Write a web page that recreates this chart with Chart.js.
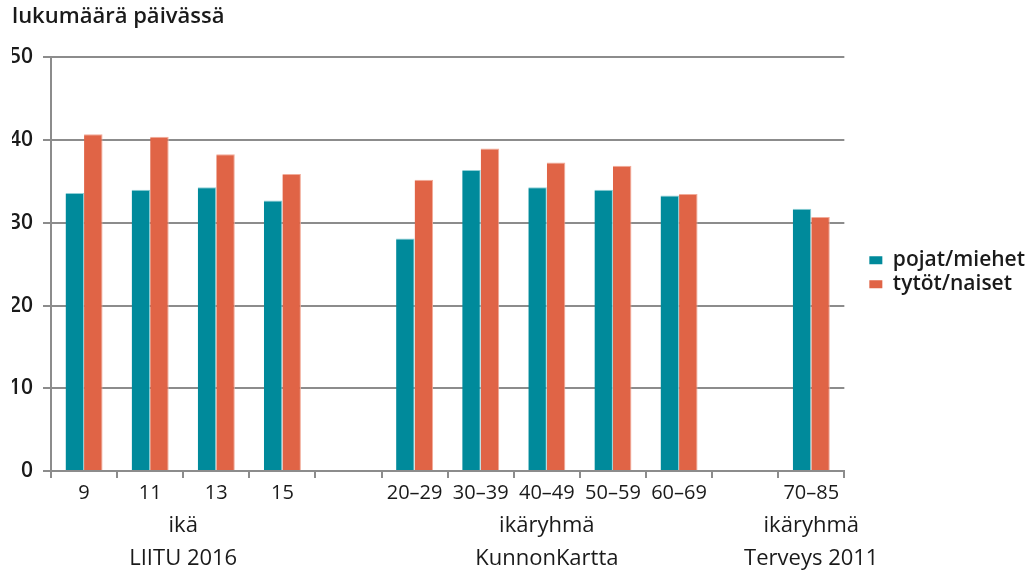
<!DOCTYPE html>
<html lang="fi">
<head>
<meta charset="utf-8">
<script src="https://cdn.jsdelivr.net/npm/chart.js@4/dist/chart.umd.min.js"></script>
<style>
  html, body { margin: 0; padding: 0; background: #fff; }
  #wrap { width: 1035px; height: 571px; position: relative; }
</style>
</head>
<body>
<div id="wrap"><canvas id="c"></canvas></div>
<script>
// Age categories; empty strings leave a gap between the three data sources
const categories = ['9', '11', '13', '15', '', '20–29', '30–39', '40–49', '50–59', '60–69', '', '70–85'];
const pojatMiehet = [33.6, 34.0, 34.3, 32.7, null, 28.1, 36.4, 34.3, 34.0, 33.3, null, 31.7];
const tytotNaiset = [40.7, 40.4, 38.3, 35.9, null, 35.2, 39.0, 37.3, 36.9, 33.5, null, 30.7];
const yTicks = [0, 10, 20, 30, 40, 50];

// Source groups under the axis: two text lines and the first/last category they cover
const groupLines = [['ikä', 'LIITU 2016'], ['ikäryhmä', 'KunnonKartta'], ['ikäryhmä', 'Terveys 2011']];
const groupSpans = [['9', '15'], ['20–29', '60–69'], ['70–85', '70–85']];

const FONT = "'Open Sans', 'DejaVu Sans', sans-serif";
const TEXT = '#1a1a1a';
const GRID = '#8c8c8c';

// Two-line source captions centred under each group of categories
const groupLabelPlugin = {
  id: 'groupLabels',
  afterDraw(chart) {
    const xs = chart.scales.x;
    const ctx = chart.ctx;
    ctx.save();
    ctx.fillStyle = TEXT;
    ctx.font = "500 22px " + FONT;
    ctx.textAlign = 'center';
    ctx.textBaseline = 'middle';
    groupLines.forEach((lines, i) => {
      const a = xs.getPixelForValue(categories.indexOf(groupSpans[i][0]));
      const b = xs.getPixelForValue(categories.indexOf(groupSpans[i][1]));
      const cx = (a + b) / 2;
      lines.forEach((t, j) => ctx.fillText(t, cx, xs.top + 55 + j * 33));
    });
    ctx.restore();
  }
};

// Leaves a wider gap between the plot and the legend, and sets the legend a bit lower
const legendNudgePlugin = {
  id: 'legendNudge',
  afterLayout(chart) {
    const lg = chart.legend;
    if (!lg) return;
    const dx = 22, dy = 8;
    lg.left += dx; lg.right += dx;
    lg.top += dy; lg.bottom += dy;
  }
};

new Chart(document.getElementById('c'), {
  type: 'bar',
  data: {
    labels: categories,
    datasets: [
      {
        label: 'pojat/miehet',
        data: pojatMiehet,
        backgroundColor: '#008a9b',
        borderColor: '#8fcfd6',
        borderWidth: { top: 1, right: 1, left: 0, bottom: 0 },
        borderSkipped: 'bottom'
      },
      {
        label: 'tytöt/naiset',
        data: tytotNaiset,
        backgroundColor: '#e06446',
        borderColor: '#f2ab99',
        borderWidth: { top: 1, right: 1, left: 0, bottom: 0 },
        borderSkipped: 'bottom'
      }
    ]
  },
  options: {
    responsive: true,
    maintainAspectRatio: false,
    animation: false,
    layout: { padding: { left: 12, right: 22, top: 0, bottom: 0 } },
    datasets: { bar: { categoryPercentage: 0.56, barPercentage: 1.0 } },
    plugins: {
      title: {
        display: true,
        text: 'lukumäärä päivässä',
        align: 'start',
        color: TEXT,
        font: { family: FONT, size: 22, weight: '600' },
        padding: { top: 4, bottom: 27 }
      },
      legend: {
        position: 'right',
        fullSize: false,
        align: 'center',
        labels: {
          color: TEXT,
          boxWidth: 13,
          boxHeight: 8,
          padding: 3,
          font: { family: FONT, size: 21, weight: '600' },
          generateLabels(chart) {
            return chart.data.datasets.map((ds, i) => ({
              text: ds.label,
              fillStyle: ds.backgroundColor,
              strokeStyle: ds.backgroundColor,
              lineWidth: 0,
              hidden: false,
              datasetIndex: i,
              fontColor: TEXT
            }));
          }
        }
      },
      tooltip: { enabled: false }
    },
    scales: {
      x: {
        offset: true,
        grid: {
          offset: true,
          drawOnChartArea: false,
          color: GRID,
          lineWidth: 2,
          tickLength: 7,
          tickColor: GRID
        },
        border: { color: GRID, width: 2 },
        ticks: {
          color: TEXT,
          font: { family: FONT, size: 20, weight: '500' },
          maxRotation: 0,
          autoSkip: false,
          padding: 3
        },
        afterFit(scale) { scale.height = 100; }
      },
      y: {
        min: 0,
        max: 50,
        afterBuildTicks(scale) { scale.ticks = yTicks.map(v => ({ value: v })); },
        grid: {
          color: GRID,
          lineWidth: 2,
          tickLength: 8,
          tickColor: GRID
        },
        border: { color: GRID, width: 2 },
        ticks: {
          color: TEXT,
          font: { family: FONT, size: 21, weight: '600' },
          padding: 10
        },
        afterFit(scale) { scale.width = 39; }
      }
    }
  },
  plugins: [groupLabelPlugin, legendNudgePlugin]
});
</script>
</body>
</html>
